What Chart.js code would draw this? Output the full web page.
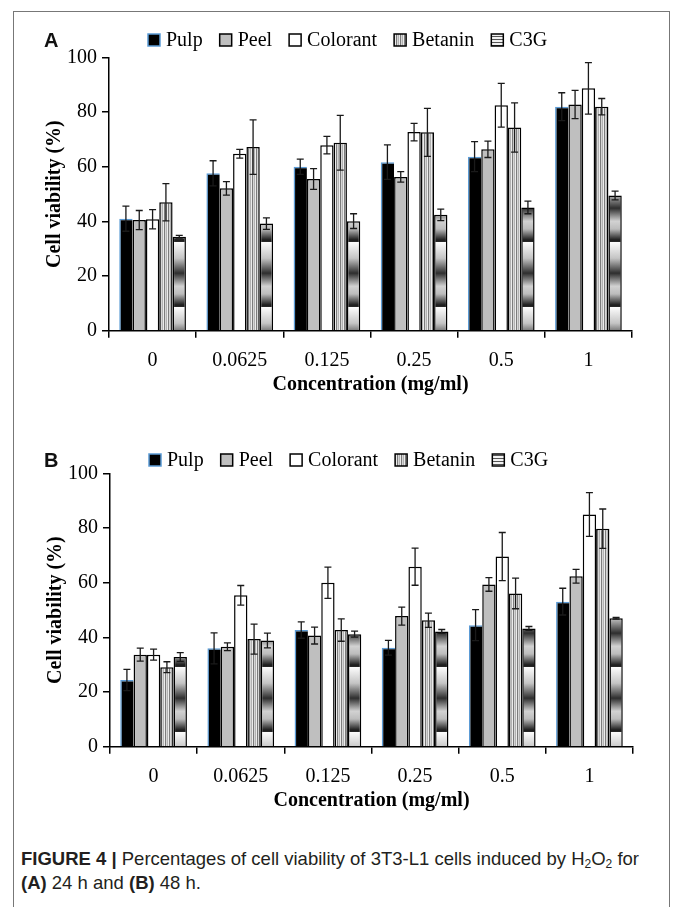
<!DOCTYPE html>
<html>
<head>
<meta charset="utf-8">
<title>Cell viability 3T3-L1</title>
<script src="https://cdn.jsdelivr.net/npm/chart.js@4.4.1/dist/chart.umd.min.js"></script>
<style>
  html, body { margin: 0; padding: 0; background: #fff; }
  body { width: 673px; height: 907px; position: relative; overflow: hidden; }
  #kader { position: absolute; left: 13px; top: 11px; width: 657px; height: 940px; border: 1px solid #777; box-sizing: border-box; }
  canvas { position: absolute; left: 0; }
  #grafiekA { top: 0; }
  #grafiekB { top: 416px; left: 1px; }
  .paneel { position: absolute; font: bold 20px "Liberation Sans", Arial, sans-serif; line-height: 24px; color: #111; }
  #bijschrift { position: absolute; left: 21px; top: 847px; font: 18.5px "Liberation Sans", Arial, sans-serif; line-height: 24px; color: #231f20; white-space: nowrap; }
  #bijschrift b { font-weight: bold; }
  #bijschrift sub { font-size: 12px; vertical-align: -3px; line-height: 0; }
</style>
</head>
<body>
<div id="kader"></div>
<canvas id="grafiekA" width="673" height="405"></canvas>
<canvas id="grafiekB" width="673" height="405"></canvas>
<div class="paneel" style="left:44px; top:28px;">A</div>
<div class="paneel" style="left:44px; top:448px;">B</div>
<div id="bijschrift"><b>FIGURE 4 |</b> Percentages of cell viability of 3T3-L1 cells induced by H<sub>2</sub>O<sub>2</sub> for<br><b>(A)</b> 24 h and <b>(B)</b> 48 h.</div>

<script>
// Categorieën en reeksen
const concentraties = ["0", "0.0625", "0.125", "0.25", "0.5", "1"];
const reeksNamen = ["Pulp", "Peel", "Colorant", "Betanin", "C3G"];
const yTicks = [0, 20, 40, 60, 80, 100];

// (A) 24 h
const pulp24 = [41.0, 57.6, 60.0, 61.7, 63.7, 82.0];
const peel24 = [40.5, 52.1, 55.5, 56.3, 66.4, 82.8];
const colorant24 = [40.8, 64.8, 67.9, 72.7, 82.5, 88.7];
const betanin24 = [47.0, 67.2, 68.8, 72.6, 74.4, 82.0];
const c3g24 = [34.4, 39.2, 40.1, 42.4, 45.1, 49.5];
const pulp24Sd = [4.6, 4.6, 2.8, 6.3, 5.5, 5.1];
const peel24Sd = [3.5, 2.5, 3.8, 1.9, 3.0, 5.2];
const colorant24Sd = [3.5, 1.6, 3.2, 3.2, 8.0, 9.4];
const betanin24Sd = [6.8, 10.0, 10.0, 8.8, 9.0, 3.0];
const c3g24Sd = [0.5, 2.1, 2.7, 2.1, 2.3, 1.6];

// (B) 48 h
const pulp48 = [24.4, 36.0, 42.7, 36.2, 44.5, 53.1];
const peel48 = [33.7, 36.6, 40.7, 47.8, 59.4, 62.4];
const colorant48 = [33.7, 55.4, 60.0, 65.9, 69.6, 85.0];
const betanin48 = [29.1, 39.4, 42.7, 46.3, 56.1, 79.8];
const c3g48 = [32.8, 38.9, 41.2, 42.2, 43.3, 47.0];
const pulp48Sd = [3.9, 5.7, 3.0, 2.7, 5.7, 4.9];
const peel48Sd = [2.4, 1.4, 3.1, 3.3, 2.5, 2.5];
const colorant48Sd = [2.0, 3.6, 5.7, 6.8, 8.8, 8.0];
const betanin48Sd = [2.0, 5.5, 4.1, 2.6, 5.6, 7.2];
const c3g48Sd = [1.6, 2.7, 1.1, 0.7, 0.7, 0.3];

const SERIF = '"Liberation Serif", "Times New Roman", serif';

/**
 * Verticale strepen voor Betanin
 */
function streepPatroon(ctx) {
  const c = document.createElement("canvas");
  c.width = 4;
  c.height = 4;
  const g = c.getContext("2d");
  ["#7c7c7c", "#d6d6d6", "#b2b2b2", "#ececec"].forEach((kleur, i) => {
    g.fillStyle = kleur;
    g.fillRect(i, 0, 1, 4);
  });
  return ctx.createPattern(c, "repeat");
}

/**
 * Horizontale banden (verloop) voor C3G
 */
function bandPatroon(ctx, rand) {
  const h = 65;
  const c = document.createElement("canvas");
  c.width = 4;
  c.height = h;
  const g = c.getContext("2d");
  const grad = g.createLinearGradient(0, 0, 0, h);
  grad.addColorStop(0, "#fdfdfd");
  grad.addColorStop(0.25, "#c4c4c4");
  grad.addColorStop(0.48, "#2e2e2e");
  grad.addColorStop(0.68, "#d2d2d2");
  grad.addColorStop(0.8, "#bcbcbc");
  grad.addColorStop(0.97, "#1c1c1c");
  grad.addColorStop(1, "#2a2a2a");
  g.fillStyle = grad;
  g.fillRect(0, 0, 4, h);
  const p = ctx.createPattern(c, "repeat");
  p.setTransform(new DOMMatrix().translate(0, rand % h));
  return p;
}

/**
 * Horizontale lijntjes voor het C3G legendavakje
 */
function lijnPatroon(ctx) {
  const c = document.createElement("canvas");
  c.width = 2;
  c.height = 3;
  const g = c.getContext("2d");
  g.fillStyle = "#f2f2f2";
  g.fillRect(0, 0, 2, 3);
  g.fillStyle = "#555";
  g.fillRect(0, 0, 2, 1);
  return ctx.createPattern(c, "repeat");
}

// Foutbalken (standaardafwijking) via de y-schaal
const foutbalkPlugin = {
  id: "foutbalken",
  afterDatasetsDraw(chart, args, opts) {
    const ctx = chart.ctx;
    const y = chart.scales.y;
    ctx.save();
    ctx.strokeStyle = "#1a1a1a";
    ctx.lineWidth = 1.3;
    chart.data.datasets.forEach((ds, i) => {
      const meta = chart.getDatasetMeta(i);
      meta.data.forEach((bar, j) => {
        const boven = y.getPixelForValue(ds.data[j] + ds.sd[j]);
        const onder = y.getPixelForValue(ds.data[j] - ds.sd[j]);
        ctx.beginPath();
        ctx.moveTo(bar.x, boven);
        ctx.lineTo(bar.x, onder);
        ctx.moveTo(bar.x - opts.kap, boven);
        ctx.lineTo(bar.x + opts.kap, boven);
        ctx.moveTo(bar.x - opts.kap, onder);
        ctx.lineTo(bar.x + opts.kap, onder);
        ctx.stroke();
      });
    });
    ctx.restore();
  },
};

// Legenda op één rij boven de grafiek
const legendaPlugin = {
  id: "legendaRij",
  afterDraw(chart, args, opts) {
    const ctx = chart.ctx;
    ctx.save();
    ctx.font = opts.font;
    ctx.textBaseline = "middle";
    let x = opts.x;
    chart.data.datasets.forEach((ds) => {
      const top = opts.y - opts.box / 2;
      ctx.fillStyle = ds.legendaVulling || ds.backgroundColor;
      ctx.fillRect(x, top, opts.box, opts.box);
      ctx.lineWidth = 1.5;
      ctx.strokeStyle = ds.legendaRand || "#000";
      ctx.strokeRect(x, top, opts.box, opts.box);
      ctx.fillStyle = "#000";
      ctx.fillText(ds.label, x + opts.box + opts.gap, opts.y + 1);
      x += opts.box + opts.gap + ctx.measureText(ds.label).width + opts.tussen;
    });
    ctx.restore();
  },
};

/**
 * Teken één paneel
 */
function tekenGrafiek(id, reeksen, sds, legendaY, bandRand) {
  const canvas = document.getElementById(id);
  const ctx = canvas.getContext("2d");

  const stijlen = [
    { backgroundColor: "#000", borderColor: "#5b9bd5", borderWidth: { top: 1.5, left: 1.5, right: 0, bottom: 0 }, legendaRand: "#5b9bd5" },
    { backgroundColor: "#bfbfbf", borderColor: "#000", borderWidth: 1.5 },
    { backgroundColor: "#fff", borderColor: "#000", borderWidth: 1.5 },
    { backgroundColor: streepPatroon(ctx), borderColor: "#000", borderWidth: 1.5 },
    { backgroundColor: bandPatroon(ctx, bandRand), borderColor: "#000", borderWidth: 1.5, legendaVulling: lijnPatroon(ctx) },
  ];

  const datasets = reeksNamen.map((naam, i) => ({
    label: naam,
    data: reeksen[i],
    sd: sds[i],
    categoryPercentage: 0.765,
    barPercentage: 1.0,
    borderSkipped: "start",
    ...stijlen[i],
  }));

  return new Chart(ctx, {
    type: "bar",
    data: { labels: concentraties, datasets },
    options: {
      responsive: false,
      animation: false,
      events: [],
      layout: { padding: { left: 40, right: 41, top: 57.5, bottom: 4.3 } },
      plugins: {
        legend: { display: false },
        tooltip: { enabled: false },
        foutbalken: { kap: 3.5 },
        legendaRij: { x: 148, y: legendaY, box: 12, gap: 6, tussen: 17, font: `20px ${SERIF}` },
      },
      scales: {
        x: {
          grid: { display: true, drawOnChartArea: false, drawTicks: true, tickLength: 7, color: "#000", lineWidth: 1.5, offset: true },
          border: { display: true, color: "#000", width: 1.5 },
          ticks: { color: "#000", font: { family: SERIF, size: 20 }, padding: 11, maxRotation: 0 },
          title: { display: true, text: "Concentration (mg/ml)", color: "#000", font: { family: SERIF, size: 20, weight: "bold" }, padding: { top: 4, bottom: 4 } },
          afterFit(scale) { scale.height = 70; },
        },
        y: {
          min: yTicks[0],
          max: yTicks[yTicks.length - 1],
          afterBuildTicks(scale) { scale.ticks = yTicks.map((v) => ({ value: v })); },
          grid: { display: true, drawOnChartArea: false, drawTicks: true, tickLength: 7, color: "#000", lineWidth: 1.5 },
          border: { display: true, color: "#000", width: 1.5 },
          ticks: { color: "#000", font: { family: SERIF, size: 20 }, padding: 5 },
          title: { display: true, text: "Cell viability (%)", color: "#000", font: { family: SERIF, size: 20, weight: "bold" }, padding: { top: 3, bottom: 0 } },
          afterFit(scale) { scale.width = 69; },
        },
      },
    },
    plugins: [foutbalkPlugin, legendaPlugin],
  });
}

tekenGrafiek("grafiekA",
  [pulp24, peel24, colorant24, betanin24, c3g24],
  [pulp24Sd, peel24Sd, colorant24Sd, betanin24Sd, c3g24Sd], 40, 307);
tekenGrafiek("grafiekB",
  [pulp48, peel48, colorant48, betanin48, c3g48],
  [pulp48Sd, peel48Sd, colorant48Sd, betanin48Sd, c3g48Sd], 44, 316);
</script>
</body>
</html>
